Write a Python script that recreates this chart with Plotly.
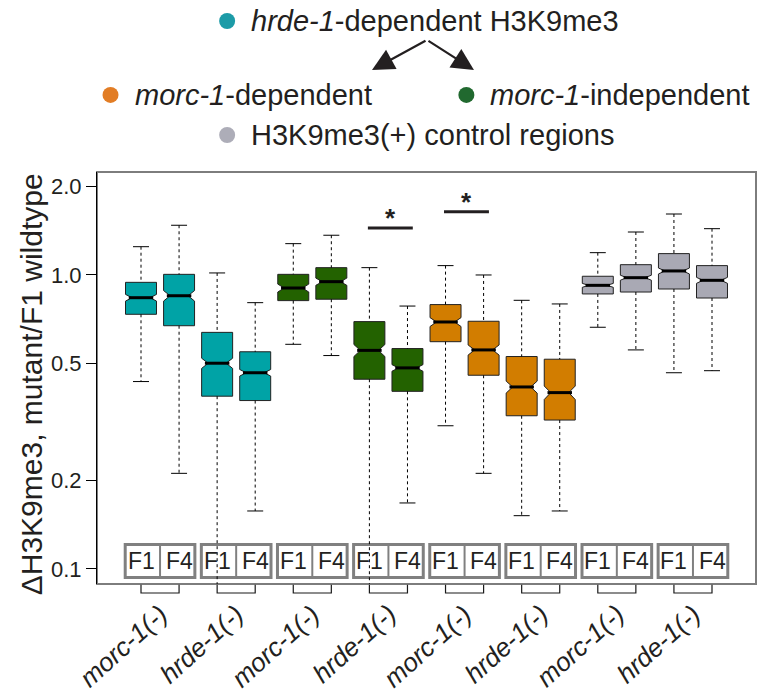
import numpy as np
import plotly.graph_objects as go

# Box statistics (ratio mutant / F1 wildtype), one entry per box, left to right
region_sets = ["hrde-1-dependent", "hrde-1-dependent", "hrde-1-dependent", "hrde-1-dependent",
               "morc-1-independent", "morc-1-independent", "morc-1-independent", "morc-1-independent",
               "morc-1-dependent", "morc-1-dependent", "morc-1-dependent", "morc-1-dependent",
               "control", "control", "control", "control"]
generations = ["F1", "F4"] * 8
genotypes = ["morc-1(-)", "hrde-1(-)"] * 4

upper = [1.248, 1.476, 1.016, 0.805, 1.278, 1.365, 1.059, 0.784,
         1.076, 1.000, 0.820, 0.797, 1.191, 1.400, 1.612, 1.437]
q3 = [0.944, 1.005, 0.638, 0.548, 1.005, 1.059, 0.694, 0.562,
      0.793, 0.696, 0.528, 0.517, 0.990, 1.084, 1.182, 1.076]
median = [0.837, 0.850, 0.501, 0.465, 0.903, 0.949, 0.554, 0.483,
          0.692, 0.556, 0.416, 0.398, 0.922, 0.979, 1.032, 0.959]
q1 = [0.735, 0.672, 0.387, 0.374, 0.818, 0.827, 0.442, 0.402,
      0.593, 0.456, 0.332, 0.321, 0.862, 0.875, 0.896, 0.835]
lower = [0.434, 0.2115, 0.075, 0.1575, 0.581, 0.532, 0.075, 0.1677,
         0.307, 0.2115, 0.1518, 0.1575, 0.664, 0.556, 0.465, 0.4725]
notch = [0.022, 0.035, 0.020, 0.012, 0.028, 0.027, 0.026, 0.0125,
         0.024, 0.022, 0.0195, 0.021, 0.014, 0.019, 0.024, 0.0225]

# Significant F1 vs F4 comparisons (index of F1 box, 0-based)
sig_pairs = [6, 8]
sig_levels = [1.445, 1.642]

y_ticks = [0.1, 0.2, 0.5, 1.0, 2.0]
y_ticklabels = ["0.1", "0.2", "0.5", "1.0", "2.0"]

set_colors = {"hrde-1-dependent": "#00a3a6", "morc-1-independent": "#236200",
              "morc-1-dependent": "#d27d00", "control": "#a9a9b4"}
legend_items = [
    ("<i>hrde-1</i>-dependent H3K9me3", "#1c9ba7"),
    ("<i>morc-1</i>-dependent", "#e27d25"),
    ("<i>morc-1</i>-independent", "#21692f"),
    ("H3K9me3(+) control regions", "#adadb8"),
]

FONT = "Liberation Sans, Arial, sans-serif"
INK = "#231f20"
BOX_W = 0.814
NOTCH_W = 0.21
pos = np.arange(1, len(median) + 1)

fig = go.Figure()

for i, p in enumerate(pos):
    fig.add_trace(go.Box(
        x=[p], q1=[q1[i]], median=[median[i]], q3=[q3[i]],
        lowerfence=[q1[i]], upperfence=[q3[i]], notchspan=[notch[i]],
        notched=True, notchwidth=NOTCH_W, width=BOX_W, whiskerwidth=0,
        fillcolor=set_colors[region_sets[i]], line=dict(color="#222222", width=1),
        boxpoints=False, showlegend=False, hoverinfo="skip"))

# dashed whiskers
wx, wy = [], []
for i, p in enumerate(pos):
    wx += [p, p, None, p, p, None]
    wy += [upper[i], q3[i], None, q1[i], lower[i], None]
fig.add_trace(go.Scatter(x=wx, y=wy, mode="lines", showlegend=False, hoverinfo="skip",
                         line=dict(color="black", width=1, dash="3px,3px")))

# whisker caps
cap = 0.21
cx, cy = [], []
for i, p in enumerate(pos):
    cx += [p - cap, p + cap, None, p - cap, p + cap, None]
    cy += [upper[i], upper[i], None, lower[i], lower[i], None]
fig.add_trace(go.Scatter(x=cx, y=cy, mode="lines", showlegend=False, hoverinfo="skip",
                         line=dict(color="black", width=1)))

# thick medians spanning the notch
half = BOX_W / 2 * (1 - NOTCH_W)
mx, my = [], []
for i, p in enumerate(pos):
    mx += [p - half, p + half, None]
    my += [median[i], median[i], None]
fig.add_trace(go.Scatter(x=mx, y=my, mode="lines", showlegend=False, hoverinfo="skip",
                         line=dict(color="black", width=3)))

shapes = []
annotations = []

# plot frame (left side is the y axis line)
shapes.append(dict(type="rect", xref="paper", yref="paper", x0=0, x1=1, y0=0, y1=1,
                   line=dict(color="#7d7d7d", width=2), layer="below"))

# F1 / F4 cells and brackets per genotype pair
for k in range(0, len(pos), 2):
    c1, c2 = pos[k], pos[k + 1]
    shapes.append(dict(type="rect", xref="x", yref="paper", x0=c1 - 0.415, x1=c2 + 0.415,
                       y0=0.0158, y1=0.0959, line=dict(color="#808080", width=3),
                       fillcolor="white", layer="below"))
    shapes.append(dict(type="line", xref="x", yref="paper", x0=(c1 + c2) / 2, x1=(c1 + c2) / 2,
                       y0=0.0158, y1=0.0959, line=dict(color="#808080", width=2), layer="below"))
    shapes.append(dict(type="path", xref="x", yref="paper",
                       path=f"M {c1},-0.002 L {c1},-0.0218 L {c2},-0.0218 L {c2},-0.002",
                       line=dict(color="#1a1a1a", width=1.2)))
    for c, g in ((c1, generations[k]), (c2, generations[k + 1])):
        annotations.append(dict(x=c, y=0.0558, xref="x", yref="paper", text=g,
                                showarrow=False, yanchor="middle", xanchor="center",
                                font=dict(family=FONT, size=23, color=INK)))
    annotations.append(dict(x=(c1 + c2) / 2, y=-0.03, xref="x", yref="paper",
                            text=f"<i>{genotypes[k // 2]}</i>", showarrow=False,
                            textangle=-42, xanchor="right", yanchor="top", xshift=16,
                            font=dict(family=FONT, size=26, color=INK)))

# significance bars
for k, lvl in zip(sig_pairs, sig_levels):
    a, b = pos[k], pos[k + 1]
    shapes.append(dict(type="line", xref="x", yref="y", x0=a - 0.04, x1=b + 0.14,
                       y0=lvl, y1=lvl, line=dict(color=INK, width=3)))
    annotations.append(dict(x=(a + b) / 2 + 0.05, y=np.log10(lvl), xref="x", yref="y",
                            text="<b>*</b>", showarrow=False, yanchor="bottom", yshift=-7,
                            font=dict(family=FONT, size=26, color=INK)))

# legend block above the plot
legend_pos = [(0.231, 1.3665), (0.054, 1.187), (0.594, 1.187), (0.231, 1.0898)]
for (txt, col), (lx, ly) in zip(legend_items, legend_pos):
    shapes.append(dict(type="circle", xref="paper", yref="paper", xsizemode="pixel",
                       ysizemode="pixel", xanchor=lx - 0.0335, yanchor=ly,
                       x0=-8, x1=8, y0=-8, y1=8, fillcolor=col, line=dict(width=0)))
    annotations.append(dict(x=lx, y=ly, xref="paper", yref="paper", text=txt,
                            showarrow=False, xanchor="left", yanchor="middle",
                            font=dict(family=FONT, size=29, color=INK)))

# arrows splitting hrde-1-dependent regions
for hx, axo in ((0.4173, 55), (0.572, -47)):
    annotations.append(dict(x=hx, y=1.2476, xref="paper", yref="paper", text="",
                            showarrow=True, ax=axo, ay=-30, arrowhead=2, arrowsize=2.0,
                            arrowwidth=2.2, arrowcolor=INK, standoff=0))

# y axis title
annotations.append(dict(x=-0.1, y=0.485, xref="paper", yref="paper",
                        text="\u0394H3K9me3, mutant/F1 wildtype", textangle=-90,
                        showarrow=False, xanchor="center", yanchor="middle",
                        font=dict(family=FONT, size=30, color=INK)))

fig.update_layout(
    width=760, height=698, margin=dict(l=97, r=4, t=172, b=114),
    paper_bgcolor="white", plot_bgcolor="white", boxmode="overlay",
    shapes=shapes, annotations=annotations, showlegend=False,
    xaxis=dict(range=[-0.156, 17.156], showticklabels=False, ticks="", showgrid=False,
               zeroline=False, showline=False),
    yaxis=dict(type="log", range=[np.log10(0.0889), np.log10(2.24)], tickvals=y_ticks,
               ticktext=y_ticklabels, ticks="outside", ticklen=10, tickwidth=1,
               tickcolor="black", showline=True, linecolor="black", linewidth=1,
               showgrid=False, zeroline=False,
               tickfont=dict(family=FONT, size=22, color=INK)),
)

fig.write_html("out.html")
